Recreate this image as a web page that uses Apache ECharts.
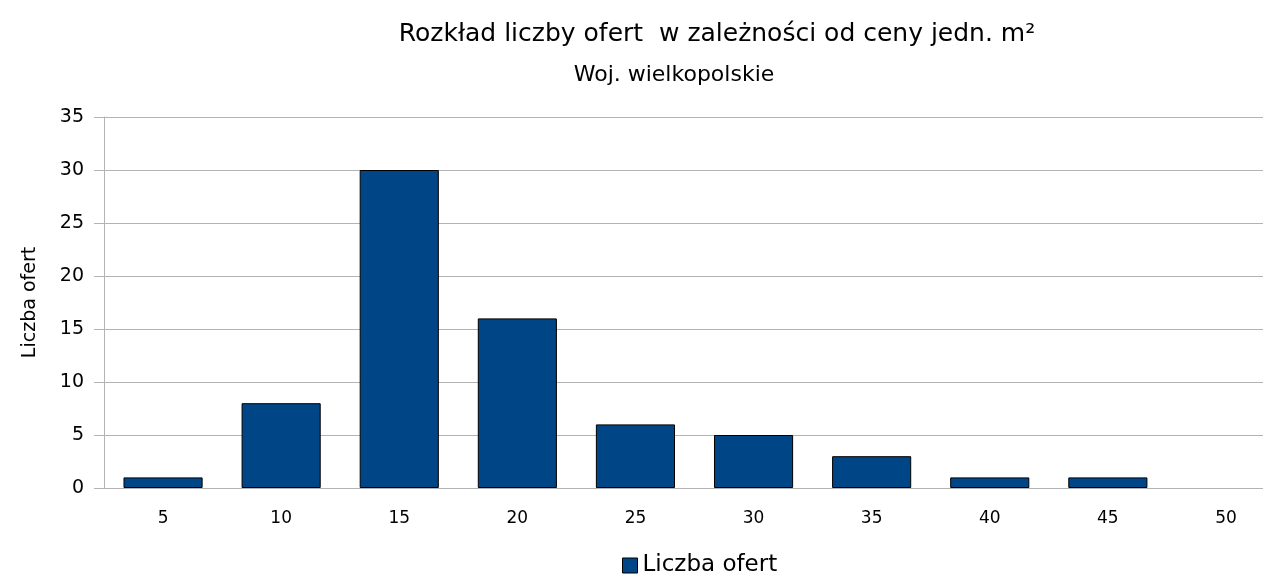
<!DOCTYPE html>
<html>
<head>
<meta charset="utf-8">
<script src="https://cdn.jsdelivr.net/npm/echarts@6/dist/echarts.min.js"></script>
<style>
  html, body { margin: 0; padding: 0; background: #fff; }
  #chart { width: 1263px; height: 577px; }
</style>
</head>
<body>
<div id="chart"></div>
<script>
// price per m2 buckets and the number of offers in each
var categories = ['5', '10', '15', '20', '25', '30', '35', '40', '45', '50'];
var offers = [1, 8, 30, 16, 6, 5, 3, 1, 1, 0];
var seriesName = 'Liczba ofert';

var font = '"DejaVu Sans", Verdana, sans-serif';
var gray = '#b3b3b3';

var myChart = echarts.init(document.getElementById('chart'));
var option = {
    animation: false,
    textStyle: { fontFamily: font },
    title: [
        {
            text: 'Rozkład liczby ofert  w zależności od ceny jedn. m²',
            left: 712, top: 17, textAlign: 'center',
            textStyle: { fontFamily: font, fontSize: 25, fontWeight: 'normal', color: '#000' }
        },
        {
            text: 'Woj. wielkopolskie',
            left: 669, top: 59, textAlign: 'center',
            textStyle: { fontFamily: font, fontSize: 22, fontWeight: 'normal', color: '#000' }
        }
    ],
    legend: {
        data: [seriesName],
        top: 549, left: 617,
        icon: 'rect', itemWidth: 15, itemHeight: 15, itemGap: 6,
        itemStyle: { borderColor: '#000', borderWidth: 1 },
        textStyle: { fontFamily: font, fontSize: 23, color: '#000' }
    },
    // the last bucket runs past the right edge of the picture
    grid: { left: 104, width: 1181, top: 117, bottom: 89, outerBoundsMode: 'none', containLabel: false },
    xAxis: {
        type: 'category',
        data: categories,
        axisLine: { lineStyle: { color: gray, width: 1 } },
        axisTick: { alignWithLabel: true, length: 10, lineStyle: { color: gray } },
        axisLabel: { margin: 22, fontSize: 17, color: '#000', fontFamily: font }
    },
    yAxis: {
        type: 'value',
        min: 0, max: 35, interval: 5,
        name: 'Liczba ofert',
        nameLocation: 'middle', nameGap: 64, nameRotate: 90,
        nameTextStyle: { fontFamily: font, fontSize: 19, color: '#000' },
        axisLine: { show: true, lineStyle: { color: gray, width: 1 } },
        axisTick: { show: true, length: 10, lineStyle: { color: gray } },
        axisLabel: { margin: 20, fontSize: 19, color: '#000', fontFamily: font },
        splitLine: { lineStyle: { color: gray, width: 1 } }
    },
    series: [{
        name: seriesName,
        type: 'bar',
        // empty bucket is not drawn at all
        data: offers.map(function (v) { return v === 0 ? '-' : v; }),
        barWidth: '67%',
        itemStyle: { color: '#004586', borderColor: '#000', borderWidth: 1 }
    }]
};
myChart.setOption(option);
</script>
</body>
</html>
